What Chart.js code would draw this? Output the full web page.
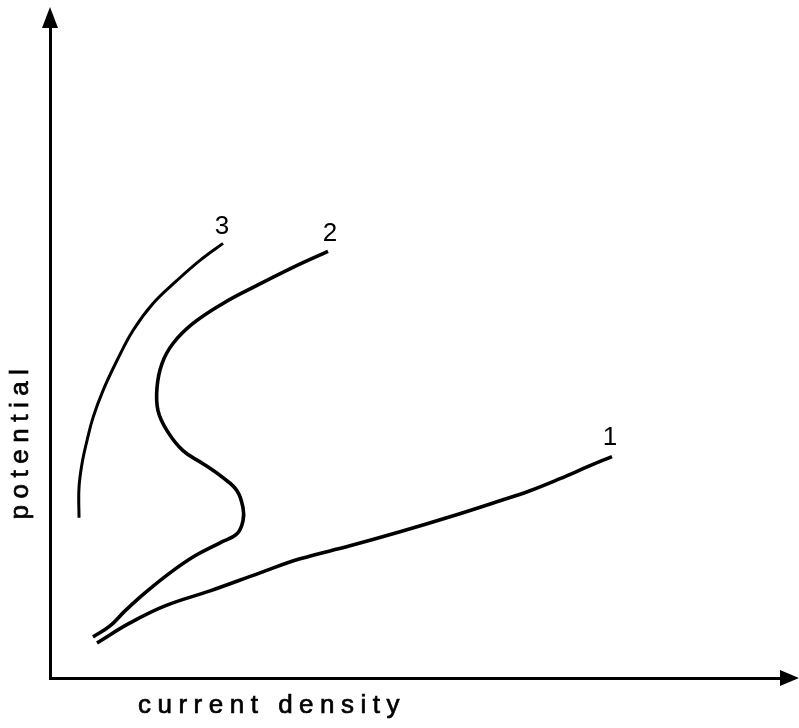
<!DOCTYPE html>
<html>
<head>
<meta charset="utf-8">
<script src="https://cdn.jsdelivr.net/npm/chart.js@4.4.1/dist/chart.umd.min.js"></script>
<style>
    body { margin: 0; background: #fff; }
    #wrap { width: 799px; height: 728px; position: relative; }
</style>
</head>
<body>
<div id="wrap"><canvas id="chart"></canvas></div>
<script>
// Curves (arbitrary units, no scale printed)
const curve1X = [47, 80, 115, 160, 210, 250, 300, 350, 400, 450, 480, 510, 540, 562];
const curve1Y = [35, 55, 72, 87, 105, 119, 132, 146, 161, 177, 187, 199, 212, 221];

const curve2X = [43, 60, 75, 95, 120, 145, 170, 187, 193, 193, 187, 173, 153, 133, 117, 108, 107, 112, 123, 143, 173, 207, 243, 278];
const curve2Y = [41, 52, 67, 85, 105, 122, 135, 144, 157, 170, 187, 200, 214, 227, 247, 267, 290, 314, 334, 354, 374, 392, 410, 426];

const curve3X = [29, 29, 32, 37, 43, 53, 67, 83, 103, 127, 150, 173];
const curve3Y = [160, 190, 214, 237, 260, 287, 317, 347, 374, 397, 417, 434];

const curveLabels = ['1', '2', '3'];
const xTitle = 'current density';
const yTitle = 'potential';

function toPoints(xs, ys) {
    return xs.map(function(x, i) { return { x: x, y: ys[i] }; });
}

function makeSet(label, xs, ys, width) {
    return {
        label: label,
        data: toPoints(xs, ys),
        showLine: true,
        borderColor: '#000',
        borderWidth: width,
        pointRadius: 0,
        tension: 0.4,
        fill: false
    };
}

// draws text a little heavier, like the printed original
function heavyText(ctx, text, x, y) {
    ctx.fillText(text, x, y);
    ctx.strokeText(text, x, y);
}

// arrows, curve numbers and spaced axis titles
const decorations = {
    id: 'decorations',
    afterDraw(chart) {
        const ctx = chart.ctx;
        const area = chart.chartArea;
        ctx.save();
        ctx.fillStyle = '#000';
        ctx.strokeStyle = '#000';
        ctx.lineWidth = 0.7;

        // y arrow head
        ctx.beginPath();
        ctx.moveTo(area.left, area.top - 7);
        ctx.lineTo(area.left - 8, area.top + 14);
        ctx.lineTo(area.left + 8, area.top + 14);
        ctx.closePath();
        ctx.fill();

        // x arrow head
        ctx.beginPath();
        ctx.moveTo(area.right + 5, area.bottom);
        ctx.lineTo(area.right - 14, area.bottom - 8);
        ctx.lineTo(area.right - 14, area.bottom + 8);
        ctx.closePath();
        ctx.fill();

        // curve numbers just above each curve end
        const offsets = [[-2, -19], [2, -18], [-1, -17]];
        ctx.font = '26px "Liberation Sans", Arial, sans-serif';
        ctx.textAlign = 'center';
        ctx.textBaseline = 'middle';
        chart.data.datasets.forEach(function(ds, i) {
            const meta = chart.getDatasetMeta(i);
            const last = meta.data[meta.data.length - 1];
            ctx.fillText(curveLabels[i], last.x + offsets[i][0], last.y + offsets[i][1]);
        });

        // axis titles
        ctx.font = '26px "Liberation Sans", Arial, sans-serif';
        ctx.letterSpacing = '6.5px';
        heavyText(ctx, xTitle, 272, 706);
        ctx.translate(21, 441);
        ctx.rotate(-Math.PI / 2);
        heavyText(ctx, yTitle, 0, 0);
        ctx.restore();
    }
};

new Chart(document.getElementById('chart'), {
    type: 'scatter',
    data: {
        datasets: [
            makeSet('1', curve1X, curve1Y, 3.6),
            makeSet('2', curve2X, curve2Y, 3.6),
            makeSet('3', curve3X, curve3Y, 3)
        ]
    },
    options: {
        responsive: true,
        maintainAspectRatio: false,
        animation: false,
        layout: { padding: { left: 42, right: 5, top: 14, bottom: 42 } },
        plugins: {
            legend: { display: false },
            tooltip: { enabled: false }
        },
        scales: {
            x: {
                min: 0, max: 744,
                ticks: { display: false },
                grid: { display: false },
                border: { display: true, color: '#000', width: 3 }
            },
            y: {
                min: 0, max: 663,
                ticks: { display: false },
                grid: { display: false },
                border: { display: true, color: '#000', width: 3 }
            }
        }
    },
    plugins: [decorations]
});
</script>
</body>
</html>
